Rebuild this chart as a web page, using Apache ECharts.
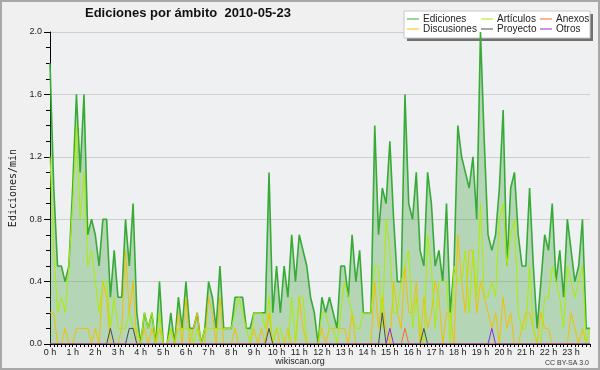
<!DOCTYPE html>
<html><head><meta charset="utf-8">
<script src="https://cdn.jsdelivr.net/npm/echarts@6/dist/echarts.min.js"></script>
<style>html,body{margin:0;padding:0;background:#f0f0f0}#c{width:600px;height:370px}</style>
</head><body><div id="c"></div><script>
const hourLabels = ['0 h','1 h','2 h','3 h','4 h','5 h','6 h','7 h','8 h','9 h','10 h','11 h','12 h','13 h','14 h','15 h','16 h','17 h','18 h','19 h','20 h','21 h','22 h','23 h'];
const seriesNames = ['Ediciones','Discusiones','Artículos','Proyecto','Anexos','Otros'];

const ediciones = [
1.8,1.0,0.5,0.5,0.4,0.5,1.0,1.6,1.1,1.6,0.7,0.8,
0.7,0.5,0.8,0.8,0.3,0.6,0.3,0.3,0.8,0.5,0.9,0.2,
0.0,0.2,0.1,0.2,0.0,0.4,0.0,0.0,0.2,0.0,0.3,0.1,
0.4,0.1,0.1,0.2,0.0,0.1,0.4,0.3,0.1,0.5,0.1,0.1,
0.1,0.3,0.3,0.3,0.1,0.1,0.2,0.2,0.2,0.2,1.1,0.2,
0.5,0.2,0.5,0.3,0.7,0.4,0.7,0.6,0.5,0.3,0.2,0.0,
0.3,0.2,0.3,0.2,0.1,0.5,0.5,0.3,0.7,0.4,0.6,0.2,
0.2,0.2,1.4,0.7,1.0,0.9,1.3,0.8,0.4,0.4,1.6,0.9,
0.8,1.1,0.6,0.5,1.1,0.9,0.5,0.6,0.4,0.9,0.2,0.5,
1.4,1.2,1.1,1.0,1.2,0.8,2.0,1.3,0.7,0.6,0.7,1.0,
1.5,0.5,1.0,1.1,0.7,0.5,0.5,1.0,0.5,0.1,0.4,0.7,
0.6,0.9,0.4,0.6,0.3,0.8,0.6,0.4,0.5,0.8,0.1,0.1];

const articulos = [
1.2,0.6,0.2,0.3,0.2,0.5,0.9,1.4,0.8,1.1,0.5,0.6,
0.4,0.2,0.4,0.4,0.1,0.3,0.1,0.1,0.1,0.2,0.1,0.1,
0.0,0.2,0.1,0.2,0.0,0.2,0.0,0.0,0.1,0.0,0.1,0.1,
0.1,0.1,0.0,0.1,0.0,0.1,0.1,0.1,0.1,0.1,0.1,0.1,
0.1,0.2,0.3,0.2,0.1,0.0,0.2,0.2,0.2,0.1,0.3,0.0,
0.1,0.1,0.0,0.0,0.3,0.0,0.3,0.3,0.0,0.0,0.0,0.0,
0.2,0.2,0.1,0.1,0.0,0.2,0.4,0.3,0.2,0.1,0.1,0.2,
0.2,0.2,0.5,0.5,0.1,0.8,0.6,0.2,0.2,0.4,0.5,0.6,
0.1,0.3,0.1,0.0,0.7,0.5,0.1,0.4,0.4,0.4,0.0,0.5,
0.4,0.4,0.6,0.2,0.6,0.3,0.9,0.3,0.3,0.4,0.3,0.8,
0.9,0.5,0.7,0.8,0.2,0.1,0.1,0.5,0.1,0.0,0.0,0.3,
0.3,0.5,0.4,0.3,0.1,0.5,0.4,0.3,0.4,0.5,0.0,0.1];

const discusiones = [
0.2,0.2,0.0,0.0,0.1,0.0,0.0,0.1,0.1,0.1,0.1,0.0,
0.1,0.0,0.4,0.3,0.0,0.0,0.0,0.1,0.6,0.2,0.4,0.0,
0.0,0.1,0.0,0.1,0.0,0.1,0.0,0.0,0.1,0.0,0.2,0.0,
0.3,0.0,0.1,0.2,0.0,0.0,0.3,0.2,0.0,0.3,0.0,0.0,
0.0,0.1,0.0,0.0,0.0,0.0,0.1,0.0,0.1,0.0,0.2,0.0,
0.1,0.0,0.0,0.1,0.0,0.0,0.3,0.1,0.0,0.0,0.0,0.0,
0.1,0.0,0.1,0.1,0.1,0.1,0.1,0.0,0.2,0.0,0.0,0.0,
0.0,0.0,0.4,0.1,0.3,0.1,0.0,0.4,0.2,0.1,0.5,0.2,
0.2,0.4,0.0,0.3,0.1,0.2,0.4,0.3,0.0,0.2,0.2,0.0,
0.7,0.4,0.2,0.6,0.6,0.2,0.4,0.3,0.2,0.1,0.2,0.0,
0.3,0.1,0.2,0.0,0.0,0.1,0.2,0.2,0.1,0.0,0.2,0.1,
0.1,0.0,0.0,0.0,0.0,0.0,0.2,0.1,0.0,0.1,0.0,0.0];

const proyecto = [
0,0,0,0,0,0,0,0,0,0,0,0,
0,0,0,0,0.1,0,0,0,0,0.1,0.1,0,
0,0,0,0,0,0,0,0,0,0,0,0,
0,0,0,0,0,0,0,0,0,0,0,0,
0,0,0,0,0,0,0,0,0,0,0.1,0,
0,0,0,0,0,0,0,0,0,0,0,0,
0,0,0,0,0,0,0,0,0,0,0,0,
0,0,0,0,0.2,0,0,0,0,0,0,0,
0,0,0,0.1,0,0,0,0,0,0,0,0,
0,0,0,0,0,0,0,0,0,0,0,0,
0,0,0,0,0,0,0,0,0,0,0,0,
0,0,0,0,0,0,0,0,0,0,0,0];

const anexos = [
0,0,0,0,0,0,0,0,0,0,0,0,
0,0,0,0,0,0,0,0,0,0,0,0,
0,0,0,0,0,0,0,0,0,0,0,0,
0,0,0,0,0,0,0,0,0,0,0,0,
0,0,0,0,0,0,0,0,0,0,0,0,
0,0,0,0,0,0,0,0,0,0,0,0,
0,0,0,0,0,0,0,0,0,0,0,0,
0,0,0,0,0,0,0,0,0,0,0.1,0,
0,0,0,0,0,0,0,0,0,0,0,0,
0,0,0,0,0,0,0,0,0,0,0,0,
0,0,0,0,0,0,0,0,0,0,0,0,
0,0,0,0,0,0,0,0,0,0,0,0];

const otros = [
0,0,0,0,0,0,0,0,0,0,0,0,
0,0,0,0,0,0,0,0,0,0,0,0,
0,0,0,0,0,0,0,0,0,0,0,0,
0,0,0,0,0,0,0,0,0,0,0,0,
0,0,0,0,0,0,0,0,0,0,0,0,
0,0,0,0,0,0,0,0,0,0,0,0,
0,0,0,0,0,0,0,0,0,0,0,0,
0,0,0,0,0,0,0.1,0,0,0,0,0,
0,0,0,0,0,0,0,0,0,0,0,0,
0,0,0,0,0,0,0,0,0,0.1,0,0,
0,0,0,0,0,0,0,0,0,0,0,0,
0,0,0,0,0,0,0,0,0,0,0,0];

const times = [];
for (let h = 0; h < 24; h++) for (let m = 0; m < 60; m += 10) times.push(h + ':' + (m < 10 ? '0' : '') + m);

const colors = {
  'Ediciones': '#38aa38', 'Discusiones': '#f2c000', 'Artículos': '#aaee00',
  'Proyecto': '#4a4a4a', 'Anexos': '#ff6a2a', 'Otros': '#8a2be2'
};
const dataMap = {
  'Ediciones': ediciones, 'Discusiones': discusiones, 'Artículos': articulos,
  'Proyecto': proyecto, 'Anexos': anexos, 'Otros': otros
};

const chart = echarts.init(document.getElementById('c'), null, {renderer: 'canvas'});
const FF = 'Liberation Sans, Arial, sans-serif';

function legendCol(left, names) {
  return {
    orient: 'vertical', left: left, top: 14, padding: 0, itemGap: 0,
    itemWidth: 12, itemHeight: 1, icon: 'rect', selectedMode: false,
    data: names,
    textStyle: {fontFamily: FF, fontSize: 10, color: '#222', lineHeight: 10, padding: [0, 0, 0, -1]}
  };
}

const option = {
  animation: false,
  backgroundColor: '#f0f0f0',
  title: {
    text: 'Ediciones por ámbito  2010-05-23', left: 85, top: 7, padding: 0,
    textStyle: {fontFamily: FF, fontSize: 13, fontWeight: 'bold', color: '#111'}
  },
  legend: [
    legendCol(407, ['Ediciones', 'Discusiones']),
    legendCol(481, ['Artículos', 'Proyecto']),
    legendCol(540, ['Anexos', 'Otros'])
  ],
  grid: {left: 46, right: 10, top: 32, bottom: 26, show: true, backgroundColor: '#eff0f2', borderWidth: 0},
  xAxis: {
    type: 'category', data: times, boundaryGap: false, z: 10,
    axisLine: {lineStyle: {color: '#000', width: 1}},
    axisTick: {show: true, interval: 0, length: 3, lineStyle: {color: '#000'}},
    axisLabel: {interval: 5, margin: 4, fontFamily: FF, fontSize: 9, color: '#222',
      formatter: (v, i) => hourLabels[i / 6]},
    splitLine: {show: false}
  },
  yAxis: {
    type: 'value', min: 0, max: 2, interval: 0.4,
    name: 'Ediciones/min', nameLocation: 'middle', nameGap: 32, nameRotate: 90,
    nameTextStyle: {fontFamily: 'DejaVu Sans Mono, monospace', fontSize: 10, color: '#222'},
    axisLine: {show: true, lineStyle: {color: '#000', width: 1}},
    axisTick: {show: true, length: 6, lineStyle: {color: '#000'}},
    minorTick: {show: true, splitNumber: 4, length: 4, lineStyle: {color: '#000'}},
    axisLabel: {margin: 8, fontFamily: FF, fontSize: 9, color: '#222', formatter: v => v.toFixed(1)},
    splitLine: {show: true, lineStyle: {color: '#cfcfcf', width: 1}}
  },
  series: seriesNames.map(n => {
    const s = {
      name: n, type: 'line', data: dataMap[n], symbol: 'none', showSymbol: false,
      color: colors[n],
      lineStyle: {color: colors[n], width: 1},
      emphasis: {disabled: true}
    };
    if (n === 'Ediciones') {
      s.lineStyle.width = 1.6;
      s.areaStyle = {color: 'rgba(60,160,60,0.47)'};
    }
    return s;
  }),
  graphic: [
    {type: 'rect', z: 3, shape: {x: 407, y: 14, width: 186, height: 27}, style: {fill: '#707070'}},
    {type: 'rect', z: 3, shape: {x: 404, y: 11, width: 186, height: 27}, style: {fill: '#ffffff', stroke: '#c8c8c8', lineWidth: 1}},
    {type: 'text', z: 5, style: {text: 'wikiscan.org', x: 300, y: 362, align: 'center', verticalAlign: 'middle',
      font: '9px ' + FF, fill: '#222'}},
    {type: 'text', z: 5, style: {text: 'CC BY-SA 3.0', x: 589, y: 363, align: 'right', verticalAlign: 'middle',
      font: '7px ' + FF, fill: '#333'}},
    {type: 'rect', z: 6, shape: {x: 1, y: 1, width: 598, height: 368}, style: {fill: 'none', stroke: '#a8a8a8', lineWidth: 2}}
  ]
};
chart.setOption(option);
</script></body></html>
